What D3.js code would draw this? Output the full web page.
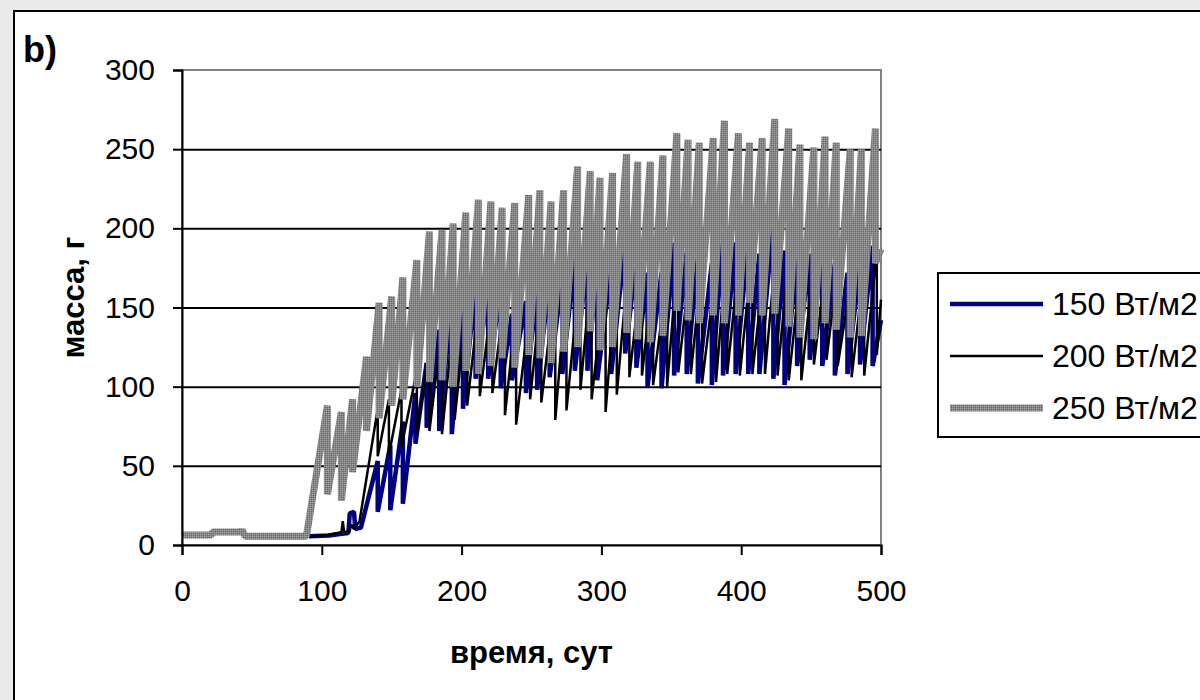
<!DOCTYPE html>
<html>
<head>
<meta charset="utf-8">
<script src="https://cdn.jsdelivr.net/npm/d3@7"></script>
<style>
    body { margin: 0; background: #eaeaea; }
    svg { display: block; font-family: "Liberation Sans", Arial, sans-serif; }
</style>
</head>
<body>
<div id="chart"></div>
<script>
// axis ticks
const xTicks = [0, 100, 200, 300, 400, 500];
const yTicks = [0, 50, 100, 150, 200, 250, 300];
const gridTicks = [50, 100, 150, 200, 250];
const seriesNames = ["150 Вт/м2", "200 Вт/м2", "250 Вт/м2"];

// 150 Вт/м2 : lead-in points, then each cycle = [drop day, peak before drop, value after drop]
const w150Lead = [[91, 5.5], [105, 6], [113, 7], [119, 7.5], [120, 20], [123, 21], [124, 10], [128, 11]];
const w150Days = [140, 149, 158, 167, 175, 184, 193, 201, 210, 219, 228, 236, 246, 254, 263, 272, 281, 290, 297, 307, 317, 325, 333, 343, 352, 361, 369, 379, 387, 396, 405, 413, 423, 431, 440, 449, 458, 467, 476, 485, 494];
const w150Peaks = [53, 63, 78, 96, 115, 136, 155, 158, 165, 161, 162, 146, 154, 164, 169, 169, 180, 181, 177, 176, 191, 180, 172, 172, 191, 185, 182, 178, 197, 191, 191, 184, 205, 186, 182, 184, 185, 178, 172, 178, 189];
const w150Lows = [21, 22, 26, 64, 74, 72, 70, 86, 105, 105, 99, 104, 96, 98, 106, 108, 110, 110, 104, 108, 121, 112, 100, 99, 107, 108, 102, 101, 107, 108, 108, 108, 105, 101, 113, 117, 113, 107, 108, 114, 113];
const w150End = [500, 142];

// 200 Вт/м2
const w200Lead = [[91, 5], [105, 6.5], [114, 8], [115, 15], [116, 8], [120, 9], [121, 13], [123, 10], [127, 15]];
const w200Days = [140, 148, 157, 168, 177, 186, 195, 204, 213, 222, 231, 239, 249, 257, 267, 275, 285, 293, 303, 311, 320, 329, 337, 347, 355, 364, 372, 382, 390, 399, 408, 417, 426, 434, 443, 452, 461, 469, 479, 488, 497];
const w200Peaks = [86, 92, 98, 110, 125, 138, 150, 155, 158, 156, 157, 148, 152, 160, 165, 166, 175, 176, 172, 174, 185, 176, 170, 170, 186, 180, 178, 175, 190, 186, 186, 180, 198, 182, 178, 180, 180, 175, 170, 175, 186];
const w200Lows = [56, 57, 62, 70, 72, 70, 79, 88, 94, 96, 82, 76, 92, 90, 79, 85, 98, 92, 84, 95, 106, 107, 101, 100, 109, 108, 102, 103, 108, 107, 108, 108, 107, 104, 104, 114, 117, 113, 106, 107, 120];
const w200End = [500, 155];

// 250 Вт/м2
const w250Lead = [[0, 6.3], [21, 6.3], [22, 8.2], [42, 8.2], [43, 9.5], [45, 5.6], [89, 5.6]];
const w250Days = [104, 114, 122, 132, 141, 150, 158, 168, 177, 186, 194, 203, 212, 221, 229, 238, 248, 256, 264, 273, 283, 292, 299, 308, 318, 326, 335, 344, 354, 362, 370, 380, 388, 398, 406, 415, 424, 434, 442, 452, 460, 468, 478, 486, 496];
const w250Peaks = [88, 84, 92, 119, 153, 157, 169, 180, 198, 199, 203, 210, 218, 217, 213, 216, 221, 224, 217, 224, 239, 236, 232, 235, 247, 242, 242, 246, 260, 256, 254, 257, 268, 260, 254, 257, 269, 263, 253, 251, 258, 254, 250, 250, 263];
const w250Lows = [32, 28, 46, 72, 80, 88, 92, 100, 103, 104, 100, 110, 108, 113, 118, 112, 120, 118, 115, 122, 125, 135, 123, 125, 134, 130, 128, 132, 148, 142, 140, 145, 140, 145, 153, 145, 146, 138, 131, 130, 140, 136, 131, 132, 178];
const w250End = [500, 187];

function buildPoints(lead, days, peaks, lows, end) {
    const pts = lead.slice();
    days.forEach((d, i) => {
        pts.push([d, peaks[i]]);
        pts.push([d, lows[i]]);
    });
    pts.push(end);
    return pts;
}

const width = 1200, height = 700;
const plot = { left: 182, right: 881, top: 70, bottom: 545 };

const svg = d3.select("#chart").append("svg")
    .attr("width", width)
    .attr("height", height);

// textured gray used for the 250 series
const defs = svg.append("defs");
const pat = defs.append("pattern")
    .attr("id", "grayTex")
    .attr("patternUnits", "userSpaceOnUse")
    .attr("width", 2)
    .attr("height", 2);
pat.append("rect").attr("width", 2).attr("height", 2).attr("fill", "#848484");
pat.append("rect").attr("width", 1).attr("height", 1).attr("fill", "#a2a2a2");
pat.append("rect").attr("x", 1).attr("y", 1).attr("width", 1).attr("height", 1).attr("fill", "#6c6c6c");

// chart frame (runs off the right and bottom edge)
svg.append("rect")
    .attr("x", 14).attr("y", 11)
    .attr("width", 1300).attr("height", 800)
    .attr("fill", "#fff")
    .attr("stroke", "#000")
    .attr("stroke-width", 2);

const x = d3.scaleLinear().domain([0, 500]).range([plot.left, plot.right]);
const y = d3.scaleLinear().domain([0, 300]).range([plot.bottom, plot.top]);

// plot border (top/right gray)
svg.append("rect")
    .attr("x", plot.left).attr("y", plot.top)
    .attr("width", plot.right - plot.left)
    .attr("height", plot.bottom - plot.top)
    .attr("fill", "none")
    .attr("stroke", "#808080")
    .attr("stroke-width", 2);

// gridlines
svg.append("g")
    .attr("transform", `translate(${plot.left},0)`)
    .call(d3.axisLeft(y).tickValues(gridTicks).tickSize(-(plot.right - plot.left)).tickFormat(""))
    .call(g => g.select(".domain").remove())
    .call(g => g.selectAll("line").attr("stroke", "#000").attr("stroke-width", 2));

// series
const line = d3.line().x(d => x(d[0])).y(d => y(d[1]));

const series = [
    { pts: buildPoints(w150Lead, w150Days, w150Peaks, w150Lows, w150End), stroke: "#000080", w: 4.5 },
    { pts: buildPoints(w200Lead, w200Days, w200Peaks, w200Lows, w200End), stroke: "#000", w: 2.5 },
    { pts: buildPoints(w250Lead, w250Days, w250Peaks, w250Lows, w250End), stroke: "url(#grayTex)", w: 7 }
];

svg.append("g").selectAll("path")
    .data(series)
    .join("path")
    .attr("d", d => line(d.pts))
    .attr("fill", "none")
    .attr("stroke", d => d.stroke)
    .attr("stroke-width", d => d.w)
    .attr("stroke-linejoin", "bevel");

// axes
const yAxis = svg.append("g")
    .attr("transform", `translate(${plot.left},0)`)
    .call(d3.axisLeft(y).tickValues(yTicks).tickSize(9).tickPadding(18));
yAxis.selectAll("path, line").attr("stroke", "#000").attr("stroke-width", 2);
yAxis.selectAll("text").attr("font-size", 30).attr("fill", "#000")
    .style("font-family", "'Liberation Sans', Arial, sans-serif");

const xAxis = svg.append("g")
    .attr("transform", `translate(0,${plot.bottom})`)
    .call(d3.axisBottom(x).tickValues(xTicks).tickSize(10).tickPadding(25));
xAxis.selectAll("path, line").attr("stroke", "#000").attr("stroke-width", 2);
xAxis.selectAll("text").attr("font-size", 30).attr("fill", "#000")
    .style("font-family", "'Liberation Sans', Arial, sans-serif");

// titles
svg.append("text")
    .attr("x", 23).attr("y", 62)
    .attr("font-size", 36).attr("font-weight", "bold")
    .text("b)");

svg.append("text")
    .attr("x", (plot.left + plot.right) / 2).attr("y", 663)
    .attr("text-anchor", "middle")
    .attr("font-size", 31).attr("font-weight", "bold")
    .text("время, сут");

svg.append("text")
    .attr("transform", `translate(84,${(plot.top + plot.bottom) / 2 - 10}) rotate(-90)`)
    .attr("text-anchor", "middle")
    .attr("font-size", 31).attr("font-weight", "bold")
    .text("масса, г");

// legend
const legend = svg.append("g");
legend.append("rect")
    .attr("x", 938).attr("y", 273)
    .attr("width", 400).attr("height", 164)
    .attr("fill", "#fff")
    .attr("stroke", "#000")
    .attr("stroke-width", 2);

const legendRows = legend.selectAll("g.row")
    .data(series)
    .join("g")
    .attr("class", "row")
    .attr("transform", (d, i) => `translate(0,${304 + i * 52})`);

legendRows.append("line")
    .attr("x1", 950).attr("x2", 1043)
    .attr("stroke", d => d.stroke)
    .attr("stroke-width", d => d.w);

legendRows.append("text")
    .attr("x", 1052).attr("dy", "0.35em")
    .attr("font-size", 32)
    .text((d, i) => seriesNames[i]);
</script>
</body>
</html>
